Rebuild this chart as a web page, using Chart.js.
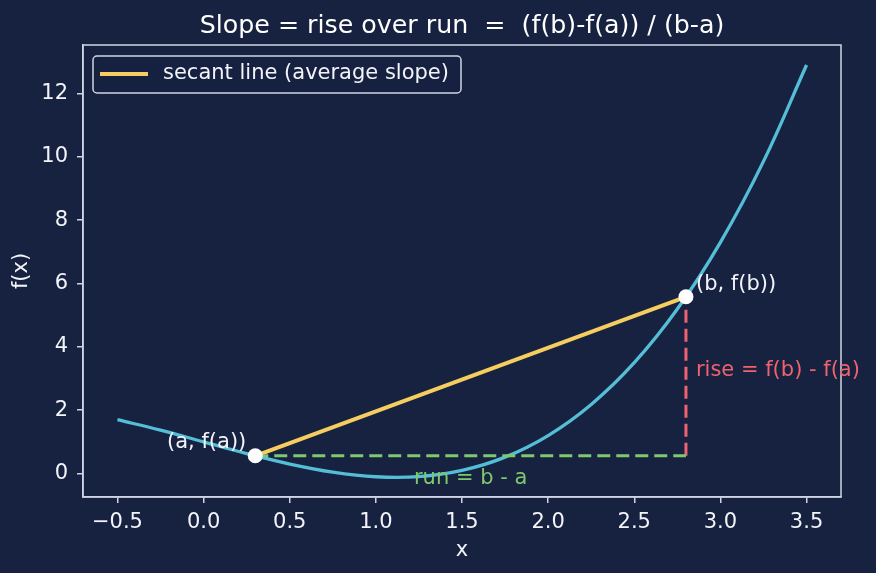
<!DOCTYPE html>
<html lang="en">
<head>
<meta charset="UTF-8">
<title>Slope = rise over run</title>
<script src="https://cdn.jsdelivr.net/npm/chart.js"></script>
<style>
  html, body { margin: 0; padding: 0; background: #172140; }
  .janela { width: 876px; height: 573px; position: relative; }
</style>
</head>
<body>
<div class="janela"><canvas id="grafico"></canvas></div>

<script>
// valores
const xs = [-0.5, -0.25, 0, 0.25, 0.5, 0.75, 1, 1.25, 1.5, 1.75, 2, 2.25, 2.5, 2.75, 3, 3.25, 3.5];
const fx = [1.7, 1.369, 1, 0.631, 0.3, 0.044, -0.1, -0.094, 0.1, 0.519, 1.2, 2.181, 3.5, 5.194, 7.3, 9.856, 12.9];
const pontoA = [0.3, 0.561];
const pontoB = [2.8, 5.581];
const xTicks = [-0.5, 0, 0.5, 1, 1.5, 2, 2.5, 3, 3.5];
const yTicks = [0, 2, 4, 6, 8, 10, 12];
const xLimites = [-0.7, 3.7];
const yLimites = [-0.74, 13.53];

const titulo = 'Slope = rise over run  =  (f(b)-f(a)) / (b-a)';
const corEixo = '#cfd5e2';
const corTexto = '#f2f4f8';
const fonte = '"DejaVu Sans"';

const extras = {
    id: 'extras',
    afterDraw(chart) {
        const ctx = chart.ctx;
        const a = chart.chartArea;
        const x = chart.scales.x;
        const y = chart.scales.y;
        ctx.save();

        // moldura (topo e direita)
        ctx.strokeStyle = corEixo;
        ctx.lineWidth = 1.5;
        ctx.strokeRect(a.left, a.top, a.right - a.left, a.bottom - a.top);

        // titulo
        ctx.fillStyle = '#ffffff';
        ctx.font = '25.3px ' + fonte;
        ctx.textAlign = 'center';
        ctx.textBaseline = 'alphabetic';
        ctx.fillText(titulo, (a.left + a.right) / 2, 33);

        // anotacoes
        ctx.font = '21px ' + fonte;
        ctx.textBaseline = 'middle';
        let ax = x.getPixelForValue(pontoA[0]), ay = y.getPixelForValue(pontoA[1]);
        let bx = x.getPixelForValue(pontoB[0]), by = y.getPixelForValue(pontoB[1]);

        ctx.fillStyle = corTexto;
        ctx.textAlign = 'right';
        ctx.fillText('(a, f(a))', ax - 9, ay - 13);
        ctx.textAlign = 'left';
        ctx.fillText('(b, f(b))', bx + 10, by - 12);

        ctx.fillStyle = '#ee636d';
        ctx.fillText('rise = f(b) - f(a)', bx + 10, y.getPixelForValue((pontoA[1] + pontoB[1]) / 2) - 6);

        ctx.fillStyle = '#7ec86e';
        ctx.textAlign = 'center';
        ctx.fillText('run = b - a', x.getPixelForValue((pontoA[0] + pontoB[0]) / 2), ay + 23);

        // legenda
        let lx = a.left + 10, ly = a.top + 11, lw = 368, lh = 37;
        ctx.beginPath();
        ctx.roundRect(lx, ly, lw, lh, 4);
        ctx.fillStyle = 'rgba(23, 33, 64, 0.8)';
        ctx.fill();
        ctx.strokeStyle = corEixo;
        ctx.lineWidth = 1.5;
        ctx.stroke();

        let ds = chart.data.datasets[1];
        ctx.beginPath();
        ctx.moveTo(lx + 7, ly + 18);
        ctx.lineTo(lx + 55, ly + 18);
        ctx.strokeStyle = ds.borderColor;
        ctx.lineWidth = ds.borderWidth;
        ctx.stroke();
        ctx.fillStyle = corTexto;
        ctx.textAlign = 'left';
        ctx.fillText(ds.label, lx + 70, ly + 18);

        ctx.restore();
    }
};

function pontos(lx, ly) {
    return lx.map(function (v, i) { return { x: v, y: ly[i] }; });
}

const config = {
    type: 'line',
    data: {
        datasets: [
            {
                label: 'f(x)',
                data: pontos(xs, fx),
                borderColor: '#54bed7',
                borderWidth: 3.3,
                pointRadius: 0,
                tension: 0.4,
                order: 4
            },
            {
                label: 'secant line (average slope)',
                data: pontos([pontoA[0], pontoB[0]], [pontoA[1], pontoB[1]]),
                borderColor: '#f5ce5f',
                borderWidth: 4,
                pointRadius: 0,
                order: 3
            },
            {
                label: 'run',
                data: pontos([pontoA[0], pontoB[0]], [pontoA[1], pontoA[1]]),
                borderColor: '#7ec86e',
                borderWidth: 3,
                borderDash: [13, 6],
                pointRadius: 0,
                order: 2
            },
            {
                label: 'rise',
                data: pontos([pontoB[0], pontoB[0]], [pontoA[1], pontoB[1]]),
                borderColor: '#ee636d',
                borderWidth: 3,
                borderDash: [13, 6],
                pointRadius: 0,
                order: 2
            },
            {
                label: 'pontos',
                data: pontos([pontoA[0], pontoB[0]], [pontoA[1], pontoB[1]]),
                showLine: false,
                pointRadius: 7.5,
                pointBackgroundColor: '#ffffff',
                pointBorderWidth: 0,
                order: 1
            }
        ]
    },
    options: {
        responsive: true,
        maintainAspectRatio: false,
        animation: false,
        layout: { padding: { top: 45, right: 35, bottom: 0, left: 0 } },
        plugins: {
            legend: { display: false },
            tooltip: { enabled: false },
            title: { display: false }
        },
        scales: {
            x: {
                type: 'linear',
                min: xLimites[0],
                max: xLimites[1],
                afterBuildTicks: function (s) { s.ticks = xTicks.map(function (v) { return { value: v }; }); },
                afterFit: function (s) { s.height = 76; },
                ticks: {
                    color: corTexto,
                    font: { family: fonte, size: 21 },
                    padding: 7,
                    maxRotation: 0,
                    autoSkip: false,
                    callback: function (v) { return (v < 0 ? '\u2212' : '') + Math.abs(v).toFixed(1); }
                },
                grid: { drawOnChartArea: false, tickLength: 6, color: corEixo, lineWidth: 1.5 },
                border: { color: corEixo, width: 1.5 },
                title: {
                    display: true, text: 'x', color: corTexto,
                    font: { family: fonte, size: 21 },
                    padding: { top: 0, bottom: 10 }
                }
            },
            y: {
                type: 'linear',
                min: yLimites[0],
                max: yLimites[1],
                afterBuildTicks: function (s) { s.ticks = yTicks.map(function (v) { return { value: v }; }); },
                afterFit: function (s) { s.width = 83; },
                ticks: {
                    color: corTexto,
                    font: { family: fonte, size: 21 },
                    padding: 9,
                    autoSkip: false
                },
                grid: { drawOnChartArea: false, tickLength: 6, color: corEixo, lineWidth: 1.5 },
                border: { color: corEixo, width: 1.5 },
                title: {
                    display: true, text: 'f(x)', color: corTexto,
                    font: { family: fonte, size: 21 },
                    padding: { top: 9, bottom: 0 }
                }
            }
        }
    },
    plugins: [extras]
};

new Chart(document.getElementById('grafico'), config);
</script>
</body>
</html>
